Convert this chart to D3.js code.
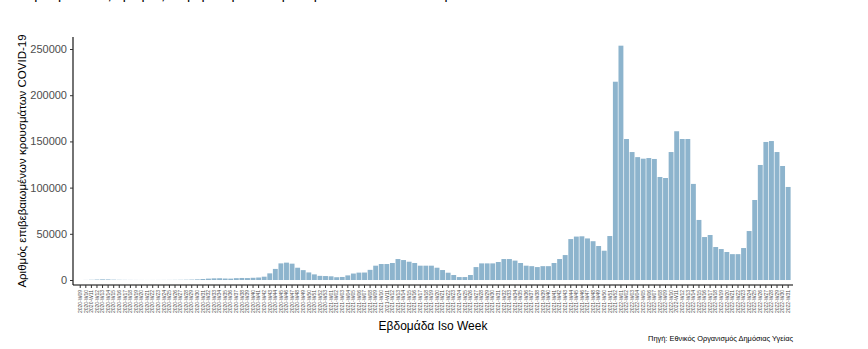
<!DOCTYPE html>
<html>
<head>
<meta charset="utf-8">
<script src="https://cdn.jsdelivr.net/npm/d3@7"></script>
<style>
  html, body { margin: 0; padding: 0; background: #ffffff; }
  svg { display: block; font-family: "Liberation Sans", Arial, sans-serif; }
</style>
</head>
<body>
<svg id="chart" width="868" height="349"></svg>
<script>
// ISO week spans per year: [year, first week, last week]
const isoYears = [[2020, 9, 53], [2021, 1, 52], [2022, 1, 31]];

// Weekly confirmed COVID-19 cases, one value per ISO week above
const cases = [
  6, 80, 250, 480, 700, 620, 380, 220, 150, 110,
  80, 60, 50, 60, 70, 90, 110, 160, 220, 320,
  450, 700, 1100, 1500, 1800, 1900, 1600, 1500, 2000, 2200,
  2100, 2400, 2700, 3600, 7200, 12000, 18000, 18800, 17700, 13300,
  10700, 8200, 6100, 4500, 4300, 4000, 3000, 3300, 5000, 7000,
  8000, 8100, 11000, 15500, 17300, 17300, 18400, 22700, 21600, 19800,
  18400, 15500, 15500, 15500, 13300, 10800, 7900, 5400, 3200, 3200,
  5400, 14000, 18000, 18000, 18000, 19500, 22700, 22700, 21000, 18400,
  15500, 15000, 14000, 15000, 15000, 18400, 22700, 27000, 44300, 47000,
  47300, 45000, 42000, 36800, 31700, 47600, 214600, 253600, 152600, 138500,
  133000, 131300, 132000, 131000, 111500, 110400, 138500, 161000, 152600, 152600,
  104000, 65000, 46500, 48700, 35700, 33500, 30300, 28000, 28000, 34600,
  53000, 86600, 124500, 149400, 150400, 138500, 123400, 100700
];

const yTicks = [0, 50000, 100000, 150000, 200000, 250000];

const titleText = "Εβδομαδιαίος αριθμός επιβεβαιωμένων κρουσμάτων COVID-19 στην Ελλάδα";
const yTitle = "Αριθμός επιβεβαιωμένων κρουσμάτων COVID-19";
const xTitle = "Εβδομάδα Iso Week";
const captionText = "Πηγή: Εθνικός Οργανισμός Δημόσιας Υγείας";

// Build week labels such as 2020-W09
const weeks = [];
isoYears.forEach(([yr, w0, w1]) => {
  for (let w = w0; w <= w1; w++) weeks.push(`${yr}-W${String(w).padStart(2, "0")}`);
});
const data = weeks.map((wk, i) => ({ week: wk, value: cases[i] }));

const svg = d3.select("#chart");
const panel = { left: 73, right: 793, top: 37, bottom: 285 };

const x = d3.scaleBand()
  .domain(weeks)
  .range([76.9, 791.5])
  .paddingInner(0.12)
  .paddingOuter(0.16);

const y = d3.scaleLinear()
  .domain([-5400, 263000])
  .range([panel.bottom, panel.top]);

// Bars
svg.append("g")
  .selectAll("rect")
  .data(data)
  .join("rect")
  .attr("x", d => x(d.week))
  .attr("width", x.bandwidth())
  .attr("y", d => y(d.value))
  .attr("height", d => y(0) - y(d.value))
  .attr("fill", "#8db4cd");

// Y axis
const yAxis = svg.append("g")
  .attr("transform", `translate(${panel.left},0)`)
  .call(d3.axisLeft(y).tickValues(yTicks).tickFormat(d3.format("d")).tickSize(3).tickPadding(3));
yAxis.select(".domain").attr("d", `M0,${panel.top}V${panel.bottom}`).attr("stroke", "#000").attr("stroke-width", 1.1);
yAxis.selectAll(".tick line").attr("stroke", "#333");
yAxis.selectAll(".tick text").attr("fill", "#4d4d4d").style("font-size", "11px");

// X axis
const xAxis = svg.append("g")
  .attr("transform", `translate(0,${panel.bottom})`)
  .call(d3.axisBottom(x).tickSize(3).tickPadding(2).tickSizeOuter(0));
xAxis.select(".domain").attr("d", `M${panel.left},0H${panel.right}`).attr("stroke", "#000").attr("stroke-width", 1.1);
xAxis.selectAll(".tick line").attr("stroke", "#333");
xAxis.selectAll(".tick text")
  .attr("fill", "#4d4d4d")
  .style("font-size", "5px")
  .attr("transform", "rotate(-90)")
  .attr("text-anchor", "end")
  .attr("x", -5)
  .attr("y", 0)
  .attr("dy", "0.35em");

// Chart title, running off the top edge of the page
svg.append("text")
  .attr("x", 25)
  .attr("y", -1)
  .attr("fill", "#000")
  .style("font-size", "14px")
  .text(titleText);

svg.append("text")
  .attr("transform", `translate(26,${(panel.top + panel.bottom) / 2}) rotate(-90)`)
  .attr("text-anchor", "middle")
  .attr("fill", "#000")
  .style("font-size", "11.5px")
  .text(yTitle);

svg.append("text")
  .attr("x", (panel.left + panel.right) / 2)
  .attr("y", 330)
  .attr("text-anchor", "middle")
  .attr("fill", "#000")
  .style("font-size", "12px")
  .text(xTitle);

svg.append("text")
  .attr("x", panel.right)
  .attr("y", 341)
  .attr("text-anchor", "end")
  .attr("fill", "#000")
  .style("font-size", "7.4px")
  .text(captionText);
</script>
</body>
</html>
